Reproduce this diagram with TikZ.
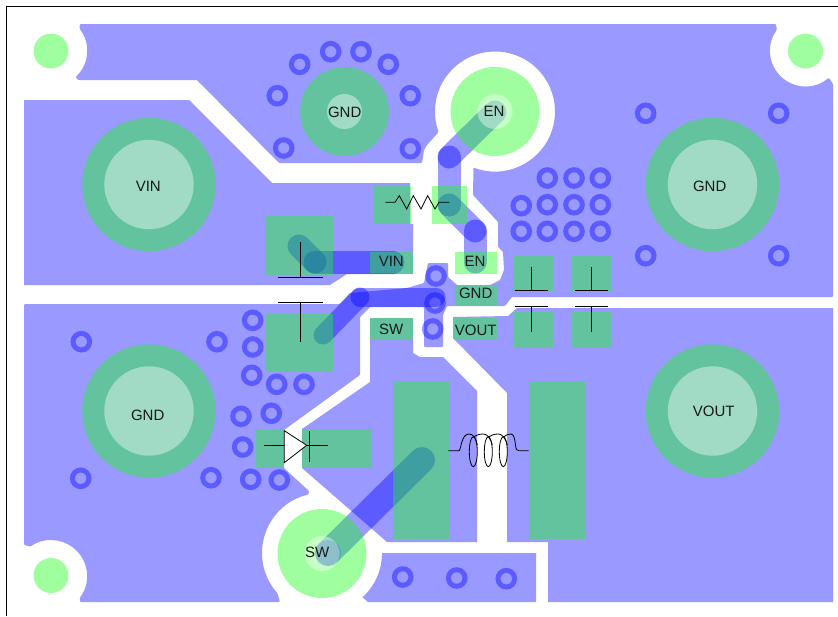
\documentclass[tikz,border=0pt]{standalone}
\usepackage{fontspec}
\setmainfont{Liberation Sans}
\definecolor{padgreen}{RGB}{23,255,23}
\tikzset{
  copper/.style={fill=blue,fill opacity=.4},
  padfill/.style={fill=padgreen,fill opacity=.41},
  holefill/.style={fill=white,fill opacity=.4},
  tracewide/.style={draw=blue,draw opacity=.4,line width=23pt,line cap=round},
  tracethin/.style={draw=blue,draw opacity=.4,line width=19pt,line cap=round},
  viaring/.style={draw=blue,draw opacity=.4,line width=5pt},
  sym/.style={draw=black,line width=.8pt},
  lbl/.style={font=\fontsize{15}{15}\selectfont,inner sep=0pt,text=black!90}
}
\begin{document}
\begin{tikzpicture}[x=1pt,y=-1pt]
\useasboundingbox (0,0) rectangle (838,616);
\fill[white] (0,0) rectangle (838,616);
\draw[black,line width=1pt] (6,616) -- (6,6) -- (838,6);
% ground plane, all one piece
\fill[copper,rounded corners=1pt] (78,80) -- (75.6,77) arc[start angle=47,end angle=-38,radius=36] -- (80,24)
  -- (776,24) -- (776.8,30.1) arc[start angle=216,end angle=49,radius=35.5] -- (833,84)
  -- (833,297) -- (512,297) -- (505,306) -- (447,306) -- (443,315) -- (443,347) -- (424,347) -- (424,307)
  -- (370,307) -- (360,317) -- (360,375) -- (284,430) -- (284,468) -- (309,491)
  -- (308.5,494.5) arc[start angle=257,end angle=138,radius=60] -- (280,602)
  -- (80,602) -- (79.8,597.7) arc[start angle=37,end angle=-125,radius=36] -- (24,545)
  -- (24,304) -- (340,304) -- (350,293) -- (407,288) -- (424,283) -- (428,263) -- (448,263) -- (448,277)
  -- (457,285) -- (490,285) -- (500,280) -- (504,270) -- (503,252) -- (498,247) -- (498,222) -- (473,195)
  -- (473.5,167.5) arc[start angle=111,end angle=-200,radius=60] -- (427,145) -- (424,150) -- (422,163)
  -- (279,163) -- (197,80) -- cycle;
\fill[copper] (24,100) -- (189,100) -- (272,183) -- (410,183) -- (410,224) -- (413,224) -- (413,274)
  -- (347,274) -- (330,285) -- (24,285) -- cycle; % VIN
\fill[copper] (370,318) -- (413,318) -- (413,353) -- (420,357) -- (443,357) -- (477,391) -- (477,542)
  -- (387,542) -- (302,468) -- (302,429) -- (370,382) -- cycle; % SW
\fill[copper] (362.5,597.3) arc[start angle=47.6,end angle=0,radius=60] -- (536,553) -- (536,602) -- (368,602) -- cycle;
\fill[copper] (453,317) -- (508,316) -- (517,308) -- (833,308) -- (833,602) -- (548,602) -- (548,542)
  -- (507,542) -- (507,393) -- (453,338) -- cycle; % VOUT
% traces
\draw[tracewide] (299,246) -- (315,262);
\draw[tracewide] (315,262) -- (393,262);
\draw[tracethin] (323,335) -- (360,297);
\draw[tracethin] (360,297) -- (436,297);
\draw[tracewide] (449,157) -- (495,112);
\draw[tracewide] (449,157) -- (449,205);
\draw[tracewide] (449,205) -- (475,231);
\draw[tracewide] (475,231) -- (475,262);
\draw[tracewide,line width=26pt] (422,460) -- (328,553);
% edit here for the vias
\foreach \x/\y in {299.7/64.3,330.7/51.7,361/51.7,388.3/64.3,410.3/95.7,277.3/95.7,283.7/148,410.3/148.7,
  645.7/113.3,778.7/113.3,645.7/255.7,778.7/255.7,
  547.3/178,574/178,600.3/178,521.3/205.7,547.3/204.7,574/204.7,600.3/204.7,
  521.3/231.3,547.3/231.3,574/231.3,600.3/231.3,
  81.3/341.7,217/341.7,252.7/320.3,252.7/347,251.7/375.3,276.7/384.3,304/384.3,241/416.3,271.3/413.3,
  242.7/447,80.7/478.3,211/477.7,250.7/479.3,279.3/480,
  402.7/577,456.7/578,506.3/578.7,436/276,435/303,432.7/329}
\draw[viaring] (\x,\y) circle[radius=8.3];
% edit here for the large pads
\foreach \x/\y in {149/184.5,712.5/184.5,149/411,712.5/411}
{\fill[padfill] (\x,\y) circle[radius=66.7];
\fill[holefill] (\x,\y) circle[radius=44.7];}
\foreach \x/\y in {344.5/111.5,495/111.5,322/553.5}
{\fill[padfill] (\x,\y) circle[radius=44.5];
\fill[holefill] (\x,\y) circle[radius=17.5];}
\foreach \x/\y in {51/51,805.5/51,51/575.5}
\fill[padfill] (\x,\y) circle[radius=17.5];
\fill[blue,fill opacity=.12] (328,553) circle[radius=13];
% edit here for the rectangular pads
\foreach \a/\b/\c/\d in {374/186/410.7/224,431.7/186/466.7/224,265/216/332.7/275.3,265/314/332.7/372.3,
  370/251.7/413/273.3,370/318/413/340,455/252/497/273.5,455/285/497/306,454/318/497/340,
  514/255.7/553.3/290.7,572/255.7/611/290.7,514/312.3/553.3/348,572/312.3/611/348,
  256/429.3/284/468.3,301.7/429.3/371.7/468.3,393.3/381/449.7/539,529.3/381/585.7/539}
\fill[padfill] (\a,\b) rectangle (\c,\d);
% resistor
\draw[sym] (385.3,202.3) -- (395,202.3) -- (399.3,195.7) -- (406.7,209) -- (413.3,195.7) -- (421,209)
  -- (427.7,195.7) -- (435,209) -- (439,202.3) -- (449.3,202.3);
% capacitors
\draw[sym] (300.7,242.3) -- (300.7,277) (278,277.3) -- (323,277.3);
\draw[sym] (278,302.7) -- (323,302.7) (300.7,302.7) -- (300.7,341.7);
\foreach \x in {531,591.7}
{\draw[sym] (\x,267.3) -- (\x,290.7) (\x-16.5,290.7) -- (\x+16.5,290.7);
\draw[sym] (\x-16.5,306.7) -- (\x+16.5,306.7) (\x,306.7) -- (\x,332.3);}
% diode
\draw[sym,fill=white] (284.3,430.7) -- (306.7,445.3) -- (284.3,462.7) -- cycle;
\draw[sym] (264.3,445.3) -- (284.3,445.3) (306.7,445.3) -- (327.7,445.3) (309,431.3) -- (309,461.7);
% inductor
\foreach \x in {473.3,488.3,503.3}
\draw[sym] (\x,451.7) ellipse[x radius=4,y radius=15];
\draw[sym] (448.3,450.7) -- (459,450.7) .. controls (461,450.7) and (461,434) .. (469,434) .. controls (473,434) and (476,438) .. (477.3,445);
\foreach \x in {473.3,488.3}
\draw[sym] (\x,437) .. controls (\x+3,435) and (\x+6,434) .. (\x+10,434) .. controls (\x+14,434) and (\x+17,438) .. (\x+19,445);
\draw[sym] (503.3,437) .. controls (506,435) and (508,434) .. (511,434) .. controls (514,434) and (515,440) .. (515.5,445) .. controls (516,450) and (517,450.7) .. (519,450.7) -- (528.5,450.7);
% labels
\node[lbl] (vinbig) at (148.3,186.7) {VIN};
\node[lbl] (gndright) at (709.7,186.7) {GND};
\node[lbl] (gndtop) at (344.7,112.7) {GND};
\node[lbl] (entop) at (494,111.7) {EN};
\node[lbl] (enpin) at (475,261.7) {EN};
\node[lbl] (gndpin) at (475.7,293.3) {GND};
\node[lbl] (voutpin) at (475.7,330) {VOUT};
\node[lbl] (vinpin) at (391.3,261.7) {VIN};
\node[lbl] (swpin) at (391.3,329.3) {SW};
\node[lbl] (gndleft) at (147.7,415.7) {GND};
\node[lbl] (swbot) at (317.3,552.3) {SW};
\node[lbl] (voutbig) at (713.7,411.7) {VOUT};
\end{tikzpicture}
\end{document}
